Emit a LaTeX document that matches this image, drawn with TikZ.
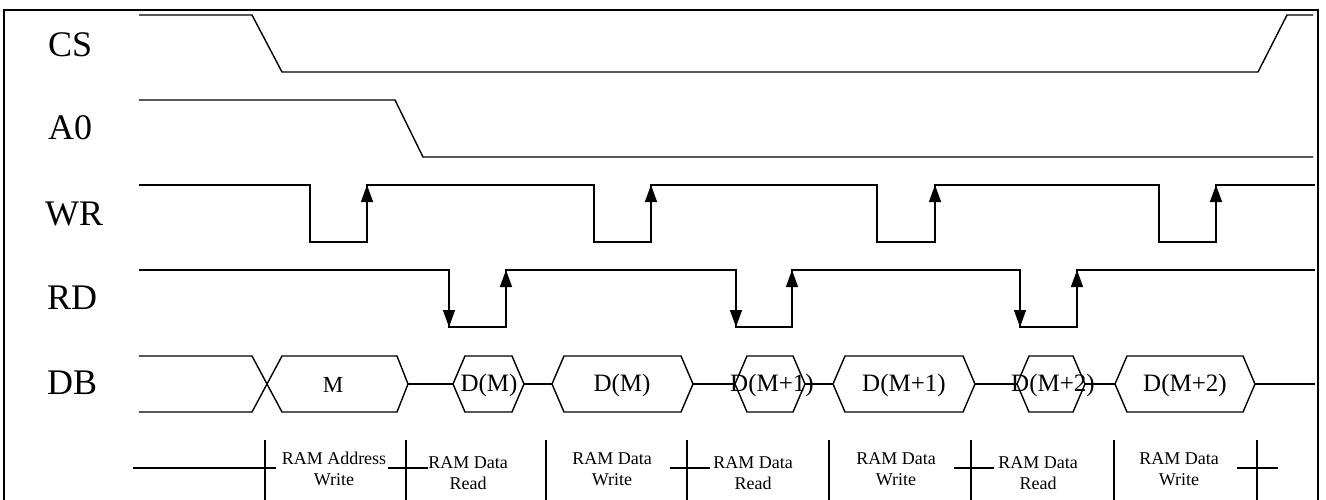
\documentclass[tikz,border=0pt]{standalone}
\usepackage{fontspec}
\setmainfont{Liberation Serif}
\usetikzlibrary{arrows.meta}

% one data word on the bus: a hexagon between two x positions, with its label
\newcommand\busword[5]{%
  \draw[sig] (#1,384) -- ({#1+12},356) -- ({#2-12},356) -- (#2,384)
             -- ({#2-12},412) -- ({#1+12},412) -- cycle;
  \node[datatext] (#4) at (#3,391) {#5};}

\begin{document}
\begin{tikzpicture}[x=1pt,y=-1pt,
  sig/.style={line width=1.4pt, line join=miter},
  edgearrow/.style={sig,-{Triangle[length=17pt,width=12pt]}},
  frame/.style={line width=2.5pt},
  signame/.style={font=\fontsize{36}{36}\selectfont, anchor=base west, inner sep=0pt},
  datatext/.style={font=\fontsize{25}{25}\selectfont, anchor=base, inner sep=0pt},
  phase/.style={font=\fontsize{18}{21}\selectfont, align=center, anchor=north, inner sep=0pt},
  tick/.style={line width=1.4pt}]
\useasboundingbox (0,0) rectangle (1326,499);

% outer frame, open at the bottom
\draw[frame] (4,510) -- (4,10) -- (1318,10) -- (1318,510);

% signal names
\node[signame] (cs) at (48,56)  {CS};
\node[signame] (a0) at (48,139) {A0};
\node[signame] (wr) at (45,225) {WR};
\node[signame] (rd) at (47,309) {RD};
\node[signame] (db) at (47,394) {DB};

% CS
\draw[sig] (139,15) -- (252,15) -- (282,72) -- (1258,72) -- (1287,15) -- (1313,15);

% A0
\draw[sig] (139,100) -- (395,100) -- (423,157) -- (1313,157);

% WR: four write strobes
\draw[sig] (139,185) -- (310,185) -- (310,242) -- (367,242) -- (367,185)
           -- (594,185) -- (594,242) -- (651,242) -- (651,185)
           -- (877,185) -- (877,242) -- (935,242) -- (935,185)
           -- (1159,185) -- (1159,242) -- (1216,242) -- (1216,185) -- (1315,185);
\foreach \x in {367,651,935,1216}
  \draw[edgearrow] (\x,242) -- (\x,185);

% RD: three read strobes
\draw[sig] (139,270) -- (449,270) -- (449,327) -- (506,327) -- (506,270)
           -- (736,270) -- (736,327) -- (792,327) -- (792,270)
           -- (1020,270) -- (1020,327) -- (1077,327) -- (1077,270) -- (1315,270);
\foreach \x in {449,736,1020}
  \draw[edgearrow] (\x,270) -- (\x,327);
\foreach \x in {506,792,1077}
  \draw[edgearrow] (\x,327) -- (\x,270);

% DB: bus contents
\draw[sig] (139,356) -- (252,356) -- (282,412) -- (397,412) -- (408,384);
\draw[sig] (139,412) -- (252,412) -- (282,356) -- (397,356) -- (408,384);
\node[font=\fontsize{23}{23}\selectfont, anchor=base, inner sep=0pt] (wm) at (333,392) {M};
\draw[sig] (408,384) -- (453,384);
\busword{453}{524}{489}{rdm}{D(M)}
\draw[sig] (524,384) -- (552,384);
\busword{552}{693}{622}{wdm}{D(M)}
\draw[sig] (693,384) -- (735,384);
\busword{735}{805}{772}{rdm1}{D(M+1)}
\draw[sig] (805,384) -- (833,384);
\busword{833}{975}{904}{wdm1}{D(M+1)}
\draw[sig] (975,384) -- (1017,384);
\busword{1017}{1085}{1053}{rdm2}{D(M+2)}
\draw[sig] (1085,384) -- (1115,384);
\busword{1115}{1255}{1185}{wdm2}{D(M+2)}
\draw[sig] (1255,384) -- (1315,384);

% cycle boundaries
\draw[tick] (133,468) -- (276,468);
\foreach \x in {265,406,546,687,829,971,1114,1257}
  \draw[tick] (\x,440) -- (\x,510);
\draw[tick] (388,468) -- (428,468);
\draw[tick] (670,468) -- (710,468);
\draw[tick] (954,468) -- (994,468);
\draw[tick] (1237,468) -- (1278,468);

% cycle names
\node[phase] (p1) at (334,452) {RAM Address\\Write};
\node[phase] (p2) at (468,456) {RAM Data\\Read};
\node[phase] (p3) at (612,452) {RAM Data\\Write};
\node[phase] (p4) at (753,456) {RAM Data\\Read};
\node[phase] (p5) at (896,452) {RAM Data\\Write};
\node[phase] (p6) at (1038,456) {RAM Data\\Read};
\node[phase] (p7) at (1179,452) {RAM Data\\Write};
\end{tikzpicture}
\end{document}
